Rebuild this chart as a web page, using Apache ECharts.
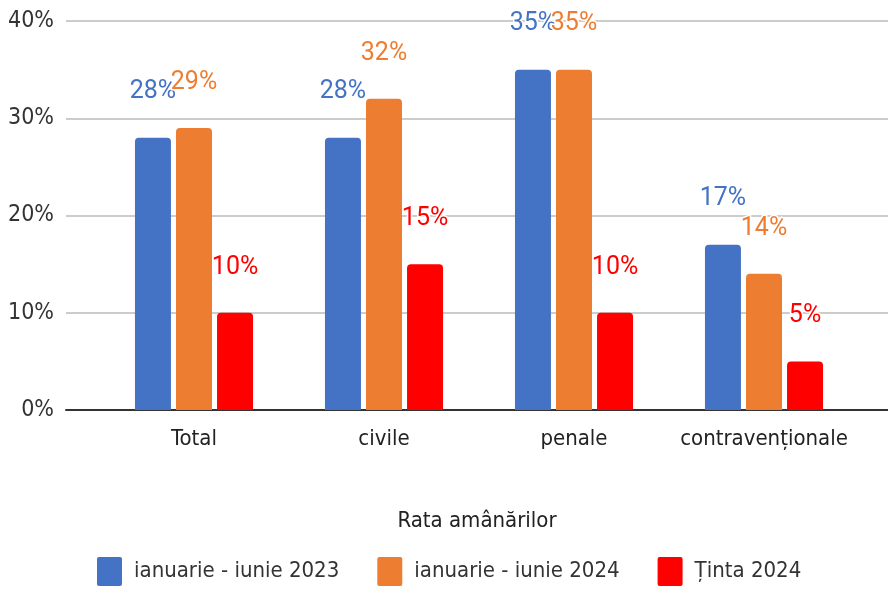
<!DOCTYPE html>
<html>
<head>
<meta charset="utf-8">
<script src="https://cdn.jsdelivr.net/npm/echarts@6/dist/echarts.min.js"></script>
<style>
  html, body { margin: 0; padding: 0; background: #fff; }
  #chart { width: 888px; height: 589px; }
</style>
</head>
<body>
<div id="chart"></div>
<script>
const categories = ['Total', 'civile', 'penale', 'contravenționale']
const seriesNames = ['ianuarie - iunie 2023', 'ianuarie - iunie 2024', 'Ținta 2024']
const values2023 = [28, 28, 35, 17]
const values2024 = [29, 32, 35, 14]
const target2024 = [10, 15, 10, 5]
const colors = ['#4472C4', '#ED7D31', '#FF0000']
const axisTitle = 'Rata amânărilor'

const axisFont = 'DejaVu Sans Condensed'
const labelFont = 'Roboto'

const makeSeries = (name, data, color) => ({
  name,
  type: 'bar',
  data,
  xAxisIndex: 0,
  yAxisIndex: 0,
  barWidth: 36,
  barGap: '14%',
  itemStyle: { color, borderRadius: [4, 4, 0, 0] },
  label: {
    show: true,
    position: 'top',
    distance: 33,
    formatter: '{c}%',
    color,
    fontFamily: labelFont,
    fontSize: 25,
    textBorderColor: '#fff',
    textBorderWidth: 3
  }
})

const chart = echarts.init(document.getElementById('chart'))
chart.setOption({
  animation: false,
  grid: [
    { left: 99, right: 29, top: 21, bottom: 179 },
    { left: 66, right: 0, top: 21, bottom: 179 }
  ],
  xAxis: [
    {
      type: 'category',
      gridIndex: 0,
      data: categories,
      axisLine: { show: false },
      axisTick: { show: false },
      axisLabel: { interval: 0, color: '#222', fontFamily: axisFont, fontSize: 22, margin: 18 }
    },
    {
      type: 'category',
      gridIndex: 1,
      data: [''],
      axisLine: { show: true, lineStyle: { color: '#333', width: 2 } },
      axisTick: { show: false },
      axisLabel: { show: false },
      name: axisTitle,
      nameLocation: 'middle',
      nameGap: 100,
      nameTextStyle: { color: '#222', fontFamily: axisFont, fontSize: 22 }
    }
  ],
  yAxis: [
    {
      type: 'value',
      gridIndex: 0,
      min: 0,
      max: 40,
      interval: 10,
      axisLabel: { show: false },
      splitLine: { show: false },
      axisLine: { show: false },
      axisTick: { show: false }
    },
    {
      type: 'value',
      gridIndex: 1,
      min: 0,
      max: 40,
      interval: 10,
      axisLabel: { formatter: '{value}%', color: '#333', fontFamily: axisFont, fontSize: 23, margin: 12 },
      splitLine: { lineStyle: { color: '#ccc', width: 2 } },
      axisLine: { show: false },
      axisTick: { show: false }
    }
  ],
  legend: {
    left: 92,
    bottom: -2,
    itemWidth: 25,
    itemHeight: 29,
    itemGap: 38,
    icon: 'path://M2,0 L23,0 Q25,0 25,2 L25,27 Q25,29 23,29 L2,29 Q0,29 0,27 L0,2 Q0,0 2,0 Z',
    textStyle: { color: '#333', fontFamily: axisFont, fontSize: 22, padding: [0, 0, 0, 7] },
    data: seriesNames
  },
  series: [
    makeSeries(seriesNames[0], values2023, colors[0]),
    makeSeries(seriesNames[1], values2024, colors[1]),
    makeSeries(seriesNames[2], target2024, colors[2])
  ]
})
</script>
</body>
</html>
